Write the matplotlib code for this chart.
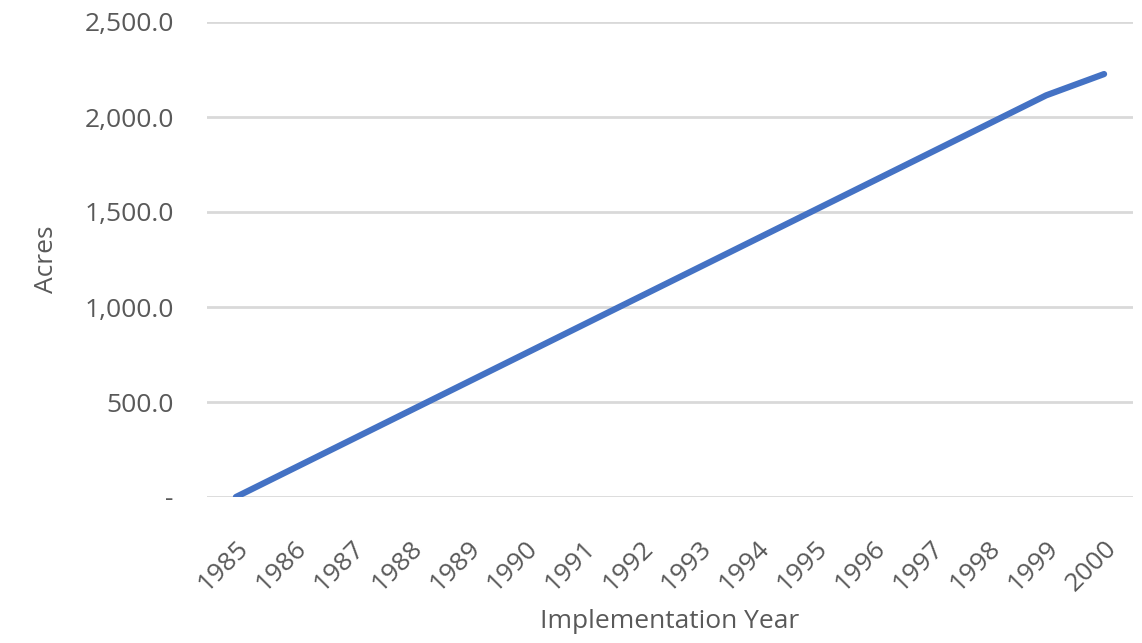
import numpy as np
import matplotlib.pyplot as plt
from matplotlib.ticker import FuncFormatter

# data
years = ['1985', '1986', '1987', '1988', '1989', '1990', '1991', '1992',
         '1993', '1994', '1995', '1996', '1997', '1998', '1999', '2000']
acres = [0, 151, 302, 453, 604, 755, 906, 1057,
         1208, 1359, 1510, 1661, 1812, 1963, 2114, 2226]

plt.rcParams['font.family'] = ['Open Sans', 'DejaVu Sans']
text_color = '#595959'

fig = plt.figure(figsize=(11.42, 6.43), dpi=100)
ax = fig.add_axes([207 / 1142, 1 - 497 / 643, 926 / 1142, 475 / 643])

x = np.arange(len(years))
ax.plot(x, acres, color='#4472C4', linewidth=4.5, solid_capstyle='round')

ax.set_xlim(-0.5, len(years) - 0.5)
ax.set_ylim(0, 2500)
ax.set_yticks(np.arange(0, 2501, 500))

def fmt(v, pos):
    # zero is shown as a dash, like the accounting format
    if v == 0:
        return '-'
    return f'{v:,.1f}'

ax.yaxis.set_major_formatter(FuncFormatter(fmt))
ax.set_xticks(x)
ax.set_xticklabels(years, rotation=45, ha='right', rotation_mode='anchor')

ax.grid(axis='y', color='#d9d9d9', linewidth=2)
ax.set_axisbelow(True)
for s in ax.spines.values():
    s.set_visible(False)
ax.tick_params(axis='both', length=0, colors=text_color, labelsize=19)
ax.tick_params(axis='y', pad=24)
ax.tick_params(axis='x', pad=28)

ax.set_ylabel('Acres', fontsize=19, color=text_color, labelpad=18)
ax.set_xlabel('Implementation Year', fontsize=19, color=text_color, labelpad=9)

fig.savefig('out.png', dpi=100)
